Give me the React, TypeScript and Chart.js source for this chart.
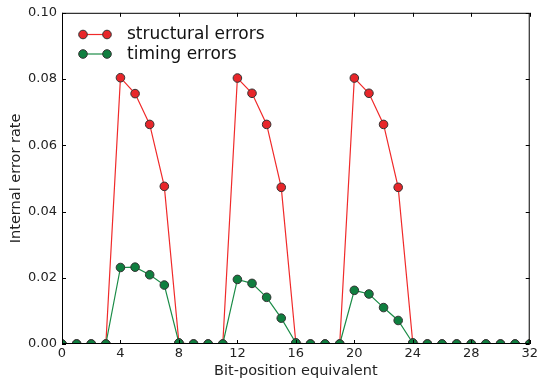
import React, { useEffect, useRef } from "react";
import { Chart, registerables } from "chart.js";

Chart.register(...registerables);

const positions = Array.from({ length: 33 }, (_, i) => i);
const structural = [
  0, 0, 0, 0, 0.0804, 0.0756, 0.0663, 0.0476, 0.0003, 0, 0, 0,
  0.0803, 0.0757, 0.0663, 0.0473, 0.0003, 0, 0, 0,
  0.0803, 0.0757, 0.0663, 0.0473, 0.0003, 0, 0, 0, 0, 0, 0, 0, 0,
];
const timing = [
  0, 0, 0, 0, 0.0231, 0.0232, 0.0209, 0.0178, 0.0003, 0, 0, 0,
  0.0195, 0.0183, 0.0141, 0.0078, 0.0003, 0, 0, 0,
  0.0162, 0.0151, 0.0110, 0.0071, 0.0003, 0, 0, 0, 0, 0, 0, 0, 0,
];
const xTicks = [0, 4, 8, 12, 16, 20, 24, 28, 32];
const yTicks = [0, 0.02, 0.04, 0.06, 0.08, 0.1];
const seriesNames = ["structural errors", "timing errors"];

const RED_LINE = "#f02a2a";
const RED_FILL = "#e8262a";
const GREEN_LINE = "#1b8c47";
const GREEN_FILL = "#0f7f3f";
const FONT = "'DejaVu Sans', sans-serif";

const framePlugin = {
  id: "frame",
  afterDatasetsDraw(chart: any) {
    const { ctx, chartArea: a, scales } = chart;
    ctx.save();
    ctx.strokeStyle = "#000";
    ctx.lineWidth = 1;
    ctx.beginPath();
    xTicks.forEach((v) => {
      const x = Math.round(scales.x.getPixelForValue(v)) + 0.5;
      ctx.moveTo(x, a.bottom);
      ctx.lineTo(x, a.bottom - 4);
      ctx.moveTo(x, a.top);
      ctx.lineTo(x, a.top + 4);
    });
    yTicks.forEach((v) => {
      const y = Math.round(scales.y.getPixelForValue(v)) + 0.5;
      ctx.moveTo(a.left, y);
      ctx.lineTo(a.left + 4, y);
      ctx.moveTo(a.right, y);
      ctx.lineTo(a.right - 4, y);
    });
    ctx.stroke();
    ctx.strokeRect(a.left + 0.5, a.top + 0.5, a.right - a.left - 1, a.bottom - a.top - 1);
    const items = [
      { name: seriesNames[0], line: RED_LINE, fill: RED_FILL, y: 34.5 },
      { name: seriesNames[1], line: GREEN_LINE, fill: GREEN_FILL, y: 54 },
    ];
    items.forEach((it) => {
      ctx.strokeStyle = it.line;
      ctx.lineWidth = 1.2;
      ctx.beginPath();
      ctx.moveTo(83, it.y);
      ctx.lineTo(107, it.y);
      ctx.stroke();
      [83, 107].forEach((cx) => {
        ctx.beginPath();
        ctx.arc(cx, it.y, 4.3, 0, Math.PI * 2);
        ctx.fillStyle = it.fill;
        ctx.fill();
        ctx.strokeStyle = "#333";
        ctx.lineWidth = 1;
        ctx.stroke();
      });
      ctx.fillStyle = "#111";
      ctx.font = `17px ${FONT}`;
      ctx.textBaseline = "middle";
      ctx.textAlign = "left";
      ctx.fillText(it.name, 127, it.y + 0.5);
    });
    ctx.restore();
  },
};

export default function App() {
  const ref = useRef<HTMLCanvasElement>(null);
  useEffect(() => {
    document.body.style.margin = "0";
    const common = {
      borderWidth: 1.2,
      pointBorderColor: "#333",
      pointBorderWidth: 1,
      pointRadius: 4.3,
      tension: 0,
      clip: 0,
    };
    const chart = new Chart(ref.current!, {
      type: "line",
      data: {
        labels: positions,
        datasets: [
          {
            ...common,
            label: seriesNames[0],
            data: positions.map((x, i) => ({ x, y: structural[i] })),
            borderColor: RED_LINE,
            backgroundColor: RED_FILL,
            pointBackgroundColor: RED_FILL,
            order: 2,
          },
          {
            ...common,
            label: seriesNames[1],
            data: positions.map((x, i) => ({ x, y: timing[i] })),
            borderColor: GREEN_LINE,
            backgroundColor: GREEN_FILL,
            pointBackgroundColor: GREEN_FILL,
            order: 1,
          },
        ],
      },
      options: {
        animation: false,
        responsive: false,
        maintainAspectRatio: false,
        layout: { padding: { top: 12, right: 8, left: 0, bottom: 0 } },
        plugins: { legend: { display: false }, tooltip: { enabled: false } },
        scales: {
          x: {
            type: "linear",
            min: 0,
            max: 32,
            afterBuildTicks: (s: any) => {
              s.ticks = xTicks.map((v) => ({ value: v }));
            },
            afterFit: (s: any) => {
              s.height = 37;
            },
            grid: { display: false, drawTicks: false },
            border: { display: false },
            ticks: {
              color: "#222",
              font: { family: FONT, size: 13 },
              padding: 2,
              maxRotation: 0,
              callback: (v: any) => String(v),
            },
            title: {
              display: true,
              text: "Bit-position equivalent",
              color: "#222",
              font: { family: FONT, size: 14.5 },
              padding: { top: 0, bottom: 1 },
            },
          },
          y: {
            type: "linear",
            min: 0,
            max: 0.1,
            afterBuildTicks: (s: any) => {
              s.ticks = yTicks.map((v) => ({ value: v }));
            },
            afterFit: (s: any) => {
              s.width = 62;
            },
            grid: { display: false, drawTicks: false },
            border: { display: false },
            ticks: {
              color: "#222",
              font: { family: FONT, size: 13 },
              padding: 5,
              callback: (v: any) => Number(v).toFixed(2),
            },
            title: {
              display: true,
              text: "Internal error rate",
              color: "#222",
              font: { family: FONT, size: 14.5 },
              padding: { top: 8, bottom: 0 },
            },
          },
        },
      },
      plugins: [framePlugin],
    });
    return () => chart.destroy();
  }, []);
  return (
    <div style={{ width: 540, height: 381 }}>
      <canvas ref={ref} width={540} height={381} style={{ display: "block" }} />
    </div>
  );
}
